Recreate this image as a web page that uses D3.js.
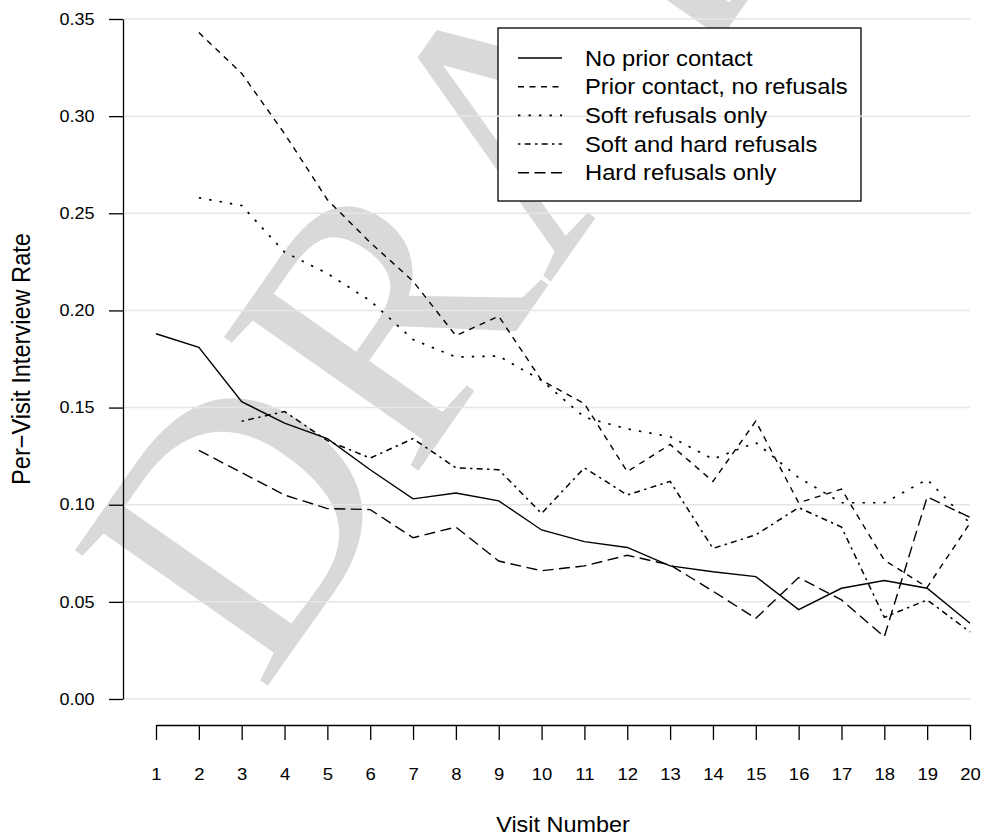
<!DOCTYPE html>
<html>
<head>
<meta charset="utf-8">
<script src="https://cdn.jsdelivr.net/npm/d3@7/dist/d3.min.js"></script>
<style>
  body { margin: 0; background: #fff; }
  svg { display: block; font-family: "Liberation Sans", Arial, Helvetica, sans-serif; }
  .wm { font-family: "Liberation Serif", "DejaVu Serif", "Times New Roman", serif; }
</style>
</head>
<body>
<svg id="chart" width="981" height="838"></svg>
<script>
// visit numbers (x categories) and y tick values
var visits = [1, 2, 3, 4, 5, 6, 7, 8, 9, 10, 11, 12, 13, 14, 15, 16, 17, 18, 19, 20];
var yTicks = [0, 0.05, 0.10, 0.15, 0.20, 0.25, 0.30, 0.35];

// per-visit interview rate, one value per visit (null = no data)
var noPrior     = [0.188, 0.181, 0.153, 0.142, 0.134, 0.118, 0.103, 0.106, 0.102, 0.087, 0.081, 0.078, 0.0685, 0.0655, 0.063, 0.046, 0.057, 0.061, 0.057, 0.039];
var priorNoRef  = [null, 0.343, 0.322, 0.291, 0.257, 0.235, 0.215, 0.187, 0.197, 0.164, 0.152, 0.117, 0.131, 0.112, 0.143, 0.101, 0.108, 0.0715, 0.0575, 0.0905];
var softOnly    = [null, 0.258, 0.254, 0.230, 0.219, 0.205, 0.185, 0.176, 0.1765, 0.164, 0.145, 0.139, 0.135, 0.1235, 0.132, 0.114, 0.101, 0.101, 0.113, 0.0905];
var softHard    = [null, null, 0.143, 0.148, 0.133, 0.124, 0.134, 0.119, 0.118, 0.0955, 0.119, 0.105, 0.112, 0.0775, 0.0845, 0.0985, 0.0885, 0.042, 0.051, 0.0345];
var hardOnly    = [null, 0.128, 0.1165, 0.105, 0.098, 0.0975, 0.083, 0.0885, 0.071, 0.066, 0.0685, 0.074, 0.069, 0.0555, 0.0415, 0.0625, 0.051, 0.032, 0.104, 0.0935];

var seriesNames = ["No prior contact", "Prior contact, no refusals", "Soft refusals only", "Soft and hard refusals", "Hard refusals only"];

d3.select(window).on('load', init);

function init() {

    var svg = d3.select('#chart');
    var sx = 1.1;   // text in the reference is a bit wider than tall

    var x = d3.scaleLinear().domain([1, 20]).range([156, 970]);
    var y = d3.scaleLinear().domain([0, 0.35]).range([699, 19]);

    var series = [
        {name: seriesNames[0], values: noPrior,    dash: null,             w: 1.4},
        {name: seriesNames[1], values: priorNoRef, dash: "6,5.5",          w: 1.4},
        {name: seriesNames[2], values: softOnly,   dash: "2.4,8.1",        w: 1.7},
        {name: seriesNames[3], values: softHard,   dash: "2.4,4.3,6,4.3",  w: 1.5},
        {name: seriesNames[4], values: hardOnly,   dash: "11,5.5",         w: 1.4}
    ];

    //watermark behind everything
    svg.append("text")
        .attr("class", "wm")
        .attr("transform", "translate(262,694) rotate(-55)")
        .style("font-size", "360px")
        .attr("fill", "#d9d9d9")
        .text("DRAFT");

    //legend box (white, gridlines pass over it)
    var lg = {x: 498, y: 28, w: 363, h: 173};
    svg.append("rect")
        .attr("x", lg.x).attr("y", lg.y)
        .attr("width", lg.w).attr("height", lg.h)
        .attr("fill", "#fff")
        .attr("stroke", "#000")
        .attr("stroke-width", 1.3);

    //horizontal gridlines
    svg.append("g").selectAll("line")
        .data(yTicks)
        .enter()
        .append("line")
        .attr("x1", 123).attr("x2", x(20))
        .attr("y1", function(d){ return y(d); })
        .attr("y2", function(d){ return y(d); })
        .attr("stroke", "#e6e6e6")
        .attr("stroke-width", 1.5);

    //y axis
    var yAxis = svg.append("g")
        .attr("transform", "translate(123,0)")
        .call(d3.axisLeft(y).tickValues(yTicks).tickFormat(d3.format(".2f")).tickSize(14).tickSizeOuter(0));
    yAxis.selectAll("text")
        .attr("x", -28.5 / sx)
        .attr("transform", "scale(" + sx + ",1)")
        .attr("font-size", 16.4)
        .attr("font-family", "'Liberation Sans', Arial, sans-serif")
        .attr("fill", "#000");

    //x axis
    var xAxis = svg.append("g")
        .attr("transform", "translate(0,725)")
        .call(d3.axisBottom(x).tickValues(visits).tickFormat(d3.format("d")).tickSize(15).tickSizeOuter(0));
    xAxis.selectAll("text")
        .attr("y", 55)
        .attr("dy", 0)
        .attr("transform", "scale(" + sx + ",1)")
        .attr("font-size", 16.8)
        .attr("font-family", "'Liberation Sans', Arial, sans-serif")
        .attr("fill", "#000");

    svg.selectAll(".domain, .tick line")
        .attr("stroke", "#000")
        .attr("stroke-width", 1.3);

    //axis titles
    svg.append("text")
        .attr("transform", "translate(563,832) scale(" + sx + ",1)")
        .attr("text-anchor", "middle")
        .attr("font-size", 21.3)
        .text("Visit Number");

    svg.append("text")
        .attr("transform", "translate(30,359) rotate(-90) scale(1,1.07)")
        .attr("text-anchor", "middle")
        .attr("font-size", 23.6)
        .text("Per\u2212Visit Interview Rate");

    //legend entries
    var rows = svg.append("g").selectAll("g")
        .data(series)
        .enter()
        .append("g")
        .attr("transform", function(d, i){ return "translate(0," + (58 + i * 28.7) + ")"; });

    rows.append("line")
        .attr("x1", 518).attr("x2", 562)
        .attr("stroke", "#000")
        .attr("stroke-width", function(d){ return d.w; })
        .attr("stroke-dasharray", function(d){ return d.dash; });

    rows.append("text")
        .attr("transform", "translate(585,7.5) scale(" + sx + ",1)")
        .attr("font-size", 21.6)
        .text(function(d){ return d.name; });

    //the five lines
    var line = d3.line()
        .defined(function(d){ return d != null; })
        .x(function(d, i){ return x(visits[i]); })
        .y(function(d){ return y(d); });

    svg.append("g").selectAll("path")
        .data(series)
        .enter()
        .append("path")
        .attr("d", function(d){ return line(d.values); })
        .attr("fill", "none")
        .attr("stroke", "#000")
        .attr("stroke-width", function(d){ return d.w; })
        .attr("stroke-dasharray", function(d){ return d.dash; });
}
</script>
</body>
</html>
